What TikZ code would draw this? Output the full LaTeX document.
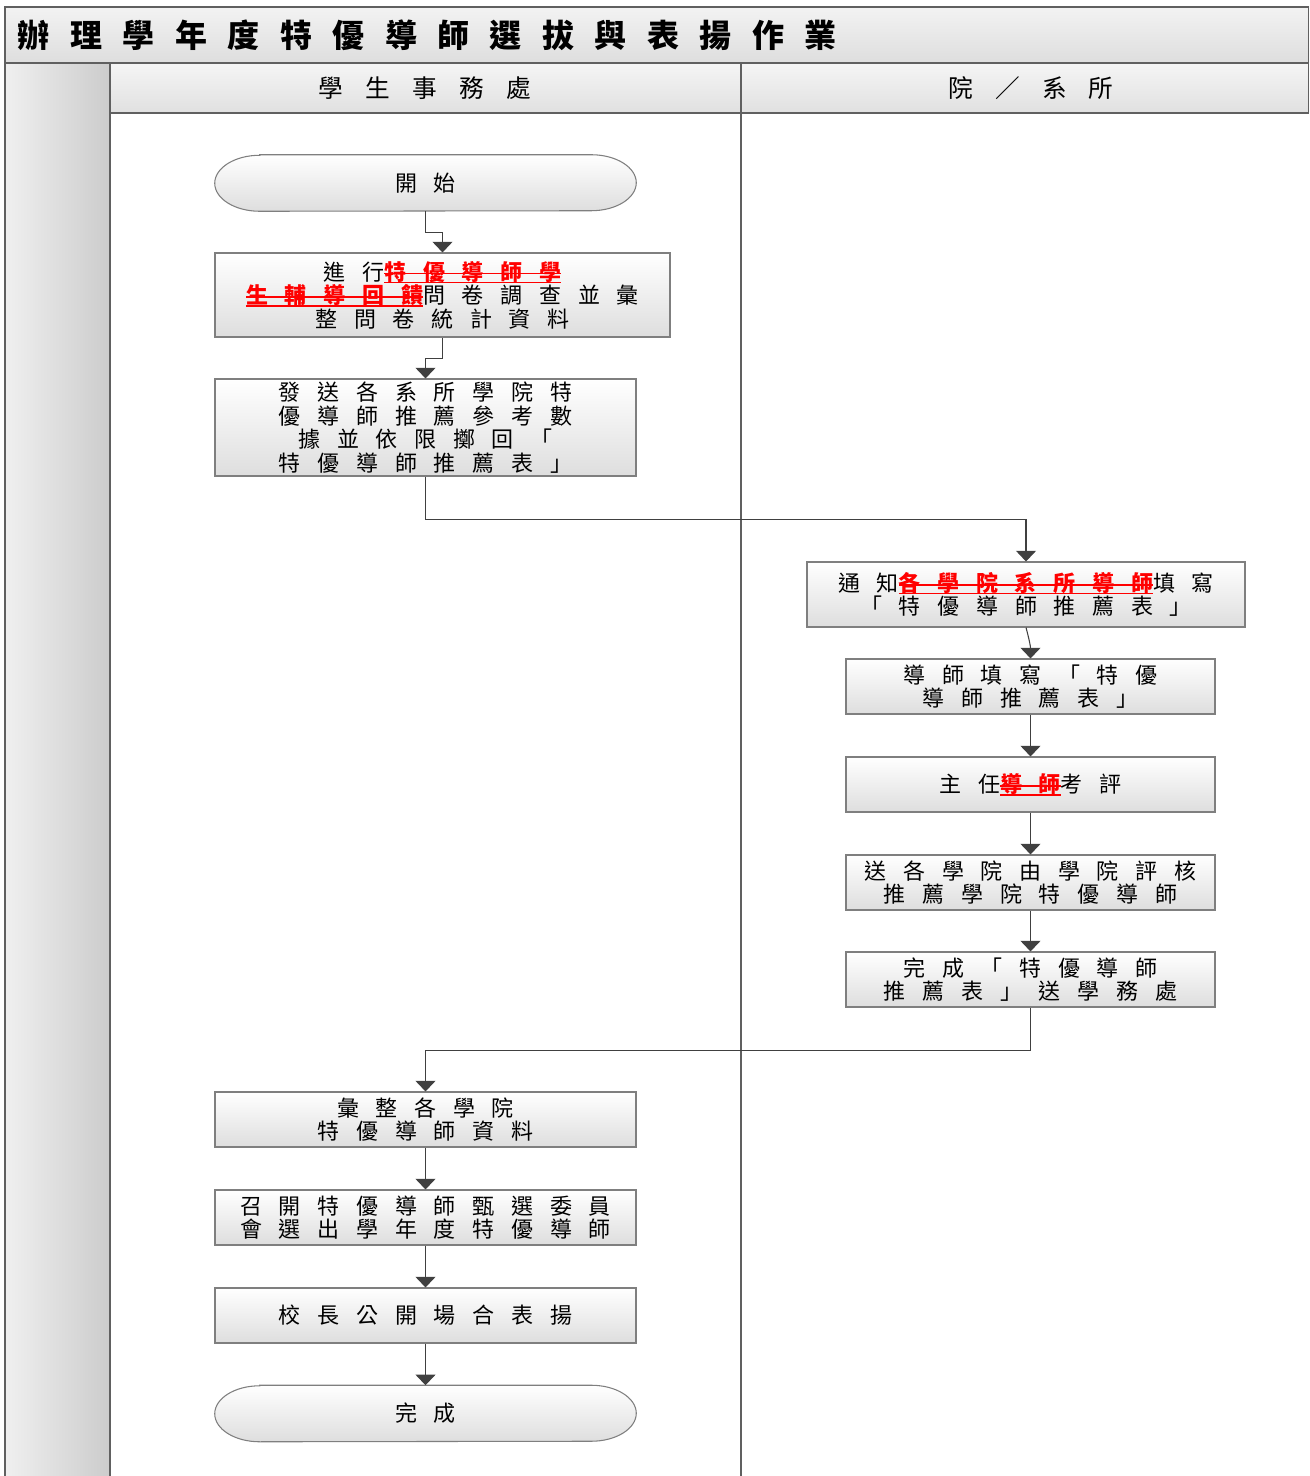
\documentclass[tikz,border=0pt]{standalone}
\usepackage{fontspec}
\setmainfont{Noto Sans CJK TC}
\newfontfamily\titlefont{Noto Sans CJK TC}[LetterSpace=64]
\newfontfamily\lanefont{Noto Sans CJK TC}[LetterSpace=90]
\newfontfamily\boxfont{Noto Sans CJK TC}[LetterSpace=76]
\usetikzlibrary{arrows.meta,calc}
\pgfdeclarelayer{background}
\pgfsetlayers{background,main}
\definecolor{linec}{HTML}{404040}
\definecolor{bordc}{HTML}{7F7F7F}
\definecolor{framec}{HTML}{606060}
\newsavebox\redbx
\newcommand\redx[1]{\sbox\redbx{\bfseries\color{red}#1}\rlap{\color{red}\rule[-0.14em]{\wd\redbx}{0.07em}}\rlap{\color{red}\rule[0.26em]{\wd\redbx}{0.07em}}\usebox\redbx}
\tikzset{
  box/.style={draw=bordc, line width=0.8pt, top color=white, bottom color=black!13, align=center, inner sep=0pt,
    font=\boxfont\fontsize{16.5}{17.6}\selectfont},
  term/.style={align=center, inner sep=0pt, font=\boxfont\fontsize{16.5}{17.6}\selectfont,
    minimum width=315.75pt, minimum height=42pt},
  termshape/.style={draw=bordc, line width=0.8pt, top color=white, bottom color=black!13},
  conn/.style={draw=linec, line width=0.8pt, -{Triangle[width=15pt,length=8pt]}},
}
\begin{document}
\begin{tikzpicture}[x=0.75pt,y=0.75pt]
\useasboundingbox (0,0) rectangle (1309,-1476);
% bands
\shade[top color=black!5, bottom color=black!13] (5,-7) rectangle (1309,-63);
\shade[left color=black!6, right color=black!20] (5,-63) rectangle (110,-1476);
\shade[top color=black!4, bottom color=black!12] (110,-63) rectangle (1309,-113);
\draw[framec, line width=0.8pt] (5,-1476) -- (5,-7) -- (1308.5,-7) -- (1308.5,-113);
\draw[framec, line width=0.8pt] (5,-63) -- (1309,-63);
\draw[framec, line width=0.8pt] (110,-63) -- (110,-1476);
\draw[framec, line width=0.8pt] (741,-63) -- (741,-1476);
\draw[framec, line width=0.8pt] (110,-113) -- (1309,-113);
\node[anchor=west, font=\titlefont\bfseries\fontsize{24}{26}\selectfont] (title) at (13,-35) {辦理學年度特優導師選拔與表揚作業};
\node[font=\lanefont\fontsize{18.5}{20}\selectfont] (lane1) at (425,-88) {學生事務處};
\node[font=\lanefont\fontsize{18.5}{20}\selectfont] (lane2) at (1031,-88) {院／系所};
% nodes
\node[term] (s) at (425.5,-183) {開始};
\node[box, minimum width=341.25pt, minimum height=63pt] (a) at (442.5,-295)
  {進行\redx{特優導師學}\\\redx{生輔導回饋}問卷調查並彙\\整問卷統計資料};
\node[box, minimum width=315.75pt, minimum height=72.75pt] (b) at (425.5,-427.5)
  {發送各系所學院特\\優導師推薦參考數\\據並依限擲回「\\特優導師推薦表」};
\node[box, minimum width=328.5pt, minimum height=48.75pt] (c) at (1026,-594.5)
  {通知\redx{各學院系所導師}填寫\\「特優導師推薦表」};
\node[box, minimum width=276.75pt, minimum height=41.25pt] (d) at (1030.5,-686.5)
  {導師填寫「特優\\導師推薦表」};
\node[box, minimum width=276.75pt, minimum height=41.25pt] (e) at (1030.5,-784.5)
  {主任\redx{導師}考評};
\node[box, minimum width=276.75pt, minimum height=41.25pt] (f) at (1030.5,-882.5)
  {送各學院由學院評核\\推薦學院特優導師};
\node[box, minimum width=276.75pt, minimum height=41.25pt] (g) at (1030.5,-979.5)
  {完成「特優導師\\推薦表」送學務處};
\node[box, minimum width=315.75pt, minimum height=41.25pt] (h) at (425.5,-1119.5)
  {彙整各學院\\特優導師資料};
\node[box, minimum width=315.75pt, minimum height=41.25pt] (i) at (425.5,-1217.5)
  {召開特優導師甄選委員\\會選出學年度特優導師};
\node[box, minimum width=315.75pt, minimum height=41.25pt] (j) at (425.5,-1315.5)
  {校長公開場合表揚};
\node[term] (z) at (425.5,-1413.5) {完成};
\begin{pgfonlayer}{background}
\foreach \t in {s,z}{
  \shade[termshape] ($(\t.north west)+(45,0)$) -- ($(\t.north east)+(-45,0)$)
    arc[start angle=90, end angle=-90, x radius=45, y radius=28]
    -- ($(\t.south west)+(45,0)$)
    arc[start angle=270, end angle=90, x radius=45, y radius=28] -- cycle;
}
\end{pgfonlayer}
% connectors
\draw[conn] (s.south) -- ++(0,-21) -| (a.north);
\draw[conn] (a.south) -- ++(0,-21) -| (b.north);
\draw[conn] (b.south) -- ++(0,-43) -| (c.north);
\draw[conn] (c.south) to[out=-75, in=90] (d.north);
\draw[conn] (d.south) -- (e.north);
\draw[conn] (e.south) -- (f.north);
\draw[conn] (f.south) -- (g.north);
\draw[conn] (g.south) -- ++(0,-43) -| (h.north);
\draw[conn] (h.south) -- (i.north);
\draw[conn] (i.south) -- (j.north);
\draw[conn] (j.south) -- (z.north);
\end{tikzpicture}
\end{document}
